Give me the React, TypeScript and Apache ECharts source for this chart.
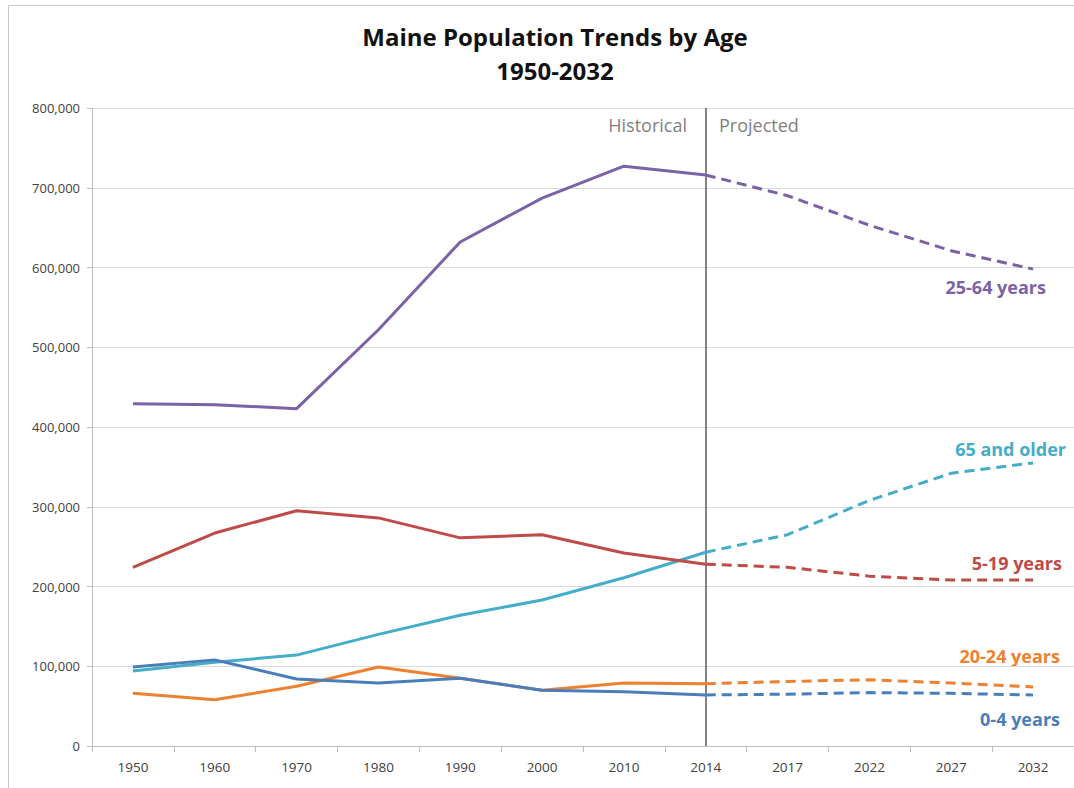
import React, { useEffect, useRef } from "react";
import * as echarts from "echarts";

const categories = ["1950", "1960", "1970", "1980", "1990", "2000", "2010", "2014", "2017", "2022", "2027", "2032"];
const splitIndex = 7; // 2014: last historical point
const age25to64 = [429000, 428000, 423000, 522000, 632000, 687000, 727000, 716000, 690000, 653000, 621000, 598000];
const age65plus = [94000, 105000, 114000, 140000, 164000, 183000, 211000, 243000, 265000, 308000, 342000, 355000];
const age5to19 = [224000, 267000, 295000, 286000, 261000, 265000, 242000, 228000, 224000, 213000, 208000, 208000];
const age20to24 = [66000, 58000, 75000, 99000, 85000, 70000, 79000, 78000, 81000, 83000, 79000, 74000];
const age0to4 = [99000, 108000, 84000, 79000, 85000, 70000, 68000, 64000, 65000, 67000, 66000, 64000];
const groups = [
  { name: "25-64 years", data: age25to64, color: "#7B62A6" },
  { name: "65 and older", data: age65plus, color: "#45ADC8" },
  { name: "5-19 years", data: age5to19, color: "#BE4B48" },
  { name: "20-24 years", data: age20to24, color: "#EC8130" },
  { name: "0-4 years", data: age0to4, color: "#4A7EBB" },
];
const labelX = [1046, 1066, 1062, 1060, 1060];
const labelY = [287, 449, 563, 656, 719];

const FONT = "'Open Sans', 'Noto Sans', sans-serif";

export default function App() {
  const ref = useRef<HTMLDivElement>(null);
  useEffect(() => {
    if (!ref.current) return;
    const chart = echarts.init(ref.current, null, { renderer: "svg" });
    const series: any[] = [];
    groups.forEach((g, gi) => {
      series.push({
        name: g.name,
        type: "line",
        data: g.data.map((v, i) => (i <= splitIndex ? v : null)),
        symbol: "none",
        lineStyle: { color: g.color, width: 3 },
        itemStyle: { color: g.color },
        z: 3,
        ...(gi === 0
          ? {
              markLine: {
                silent: true,
                symbol: "none",
                label: { show: false },
                lineStyle: { color: "#5a5a5a", width: 1.5, type: "solid" },
                data: [{ xAxis: categories[splitIndex] }],
                z: 2,
              },
            }
          : {}),
      });
      series.push({
        name: g.name + " projected",
        type: "line",
        data: g.data.map((v, i) => (i >= splitIndex ? v : null)),
        symbol: "none",
        lineStyle: { color: g.color, width: 3, type: [10, 6] },
        itemStyle: { color: g.color },
        z: 3,
      });
    });
    chart.setOption({
      animation: false,
      backgroundColor: "#ffffff",
      title: {
        text: "Maine Population Trends by Age\n1950-2032",
        left: 550,
        top: 14,
        textAlign: "center",
        textStyle: { fontFamily: FONT, fontSize: 24, fontWeight: "bold", color: "#111", lineHeight: 34 },
      },
      grid: { left: 92, right: 0, top: 108, bottom: 42, containLabel: false },
      xAxis: {
        type: "category",
        data: categories,
        boundaryGap: true,
        axisLine: { lineStyle: { color: "#bfbfbf", width: 1 } },
        axisTick: { show: true, length: 6, lineStyle: { color: "#bfbfbf" } },
        axisLabel: { color: "#404040", fontFamily: FONT, fontSize: 13.5, margin: 14 },
      },
      yAxis: {
        type: "value",
        min: 0,
        max: 800000,
        interval: 100000,
        axisLine: { show: true, lineStyle: { color: "#bfbfbf" } },
        axisTick: { show: true, length: 5, lineStyle: { color: "#bfbfbf" } },
        splitLine: { lineStyle: { color: "#d9d9d9", width: 1 } },
        axisLabel: {
          color: "#404040",
          fontFamily: FONT,
          fontSize: 13,
          margin: 12,
          formatter: (v: number) => v.toLocaleString("en-US"),
        },
      },
      series,
      graphic: [
        { type: "rect", shape: { x: 8.5, y: 5.5, width: 1100, height: 800 }, style: { fill: "none", stroke: "#c8c8c8", lineWidth: 1 }, silent: true },
        { type: "text", x: 687, y: 125, style: { text: "Historical", fill: "#7f7f7f", font: `18px ${FONT}`, textAlign: "right", textVerticalAlign: "middle" } },
        { type: "text", x: 719, y: 125, style: { text: "Projected", fill: "#7f7f7f", font: `18px ${FONT}`, textAlign: "left", textVerticalAlign: "middle" } },
        ...groups.map((g, i) => ({
          type: "text",
          x: labelX[i],
          y: labelY[i],
          style: { text: g.name, fill: g.color, font: `bold 18px ${FONT}`, textAlign: "right", textVerticalAlign: "middle" },
        })),
      ],
    });
    return () => chart.dispose();
  }, []);
  return <div ref={ref} style={{ position: "absolute", left: 0, top: 0, width: 1074, height: 788 }} />;
}
